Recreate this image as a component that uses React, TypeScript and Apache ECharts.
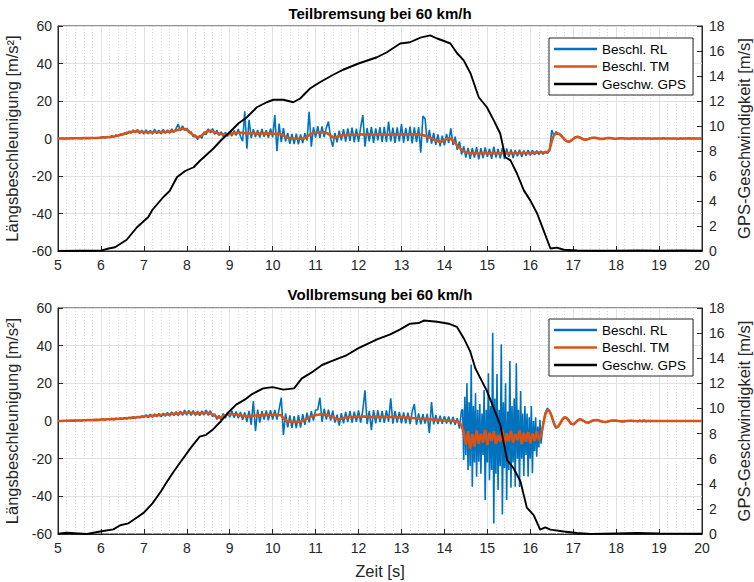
import React, { useEffect, useRef } from "react";
import * as echarts from "echarts";

// ---------- data ----------
const T0 = 5;
const DT = 0.05; // sample step of acceleration arrays [s]

const xTicks = [5, 20];
const accelRange = [-60, 60];
const speedRange = [0, 18];

// Teilbremsung – Beschl. RL (m/s^2), t = 5 + i*0.05
const rlTop = [
  0.1,-0.1,0.2,-0.2,0.1,0.0,0.2,-0.1,0.3,0.0,0.2,-0.1,0.4,0.0,0.3,0.1,0.5,0.1,0.4,0.2,0.6,
  0.9,0.3,1.1,0.5,1.4,0.8,1.9,1.2,2.4,1.8,3.1,2.2,3.9,2.8,4.6,3.0,4.9,
  2.6,4.5,2.4,4.6,2.5,4.3,2.3,5.0,2.6,4.4,2.5,4.9,2.7,4.6,2.8,5.1,3.2,5.4,
  7.7,4.0,6.8,4.3,5.5,3.0,3.6,0.9,1.9,-0.6,1.6,0.2,3.5,2.0,5.2,
  3.0,5.3,2.2,4.4,1.6,3.6,1.0,3.4,1.1,3.8,1.3,4.3,1.6,5.0,1.2,-1.5,14.5,-5.5,10.0,0.2,
  5.0,0.8,4.6,0.5,5.1,0.9,4.4,0.4,5.3,0.6,
  12.5,-6.8,8.0,-2.0,5.5,-1.5,3.0,
  -2.8,2.4,-3.0,2.6,-3.1,2.2,-2.5,2.8,-1.0,
  14.3,-4.4,6.0,0.5,6.6,0.4,6.5,0.8,5.8,9.0,0.2,
  -4.4,3.0,-2.0,4.2,-1.0,
  5.0,-1.6,5.4,-1.2,5.8,-2.0,5.2,-1.8,6.0,12.5,-4.4,5.6,-1.5,6.2,-2.3,5.4,-1.0,6.0,
  -1.8,6.2,-2.0,9.0,-1.5,5.8,-2.4,6.0,-1.6,7.7,-2.2,5.6,-1.4,6.3,-2.6,5.9,-2.0,6.1,-7.5,12.0,
  10.5,-2.2,4.6,-2.8,3.0,-3.4,2.2,-4.2,1.5,-3.6,2.5,-2.4,5.4,
  -3.5,1.0,-6.0,-1.6,-8.5,-4.2,-10.2,-5.0,
  -10.8,-5.0,-10.2,-4.6,-11.1,-5.2,-10.5,-4.8,-9.8,-5.4,-10.9,-4.4,-10.1,-5.6,-10.6,-5.0,-11.0,-5.3,-9.9,-5.8,
  -10.4,-6.2,-9.5,-6.0,-9.8,-6.4,-9.2,-6.1,-9.0,-6.3,-8.8,-6.5,-8.6,-6.6,-8.5,-6.7,-8.0,
  -6.5,4.5,1.5,3.6,2.3,2.2,0.6,-0.8,-1.4,-1.9,-1.0,-0.3,0.7,1.0,0.5,0.1,-0.6,-0.5,-0.4,0.2,0.3,0.5,
  0.3,-0.1,-0.1,-0.3,0.1,0.1,0.3,0.0,0.0,-0.2,0.1,0.0,0.2,-0.1,0.1,-0.2,0.1,0.0,0.1,-0.1,
  0.1,-0.1,0.2,-0.1,0.1,-0.1,0.0,0.1,-0.1,0.1,-0.1,0.2,-0.1,0.1,0.0,-0.1,0.1,-0.1,0.0,0.1,
  -0.1,0.1,0.0,0.2,-0.1,0.1,0.0,-0.1,0.1,0.0,
];

// Teilbremsung – Beschl. TM (m/s^2)
const tmTop = [
  0,0,0,0,0,0,0.1,0.1,0.1,0.1,0.1,0.1,0.2,0.2,0.2,0.2,0.3,0.3,0.3,0.4,0.4,
  0.5,0.6,0.7,0.8,1.0,1.1,1.3,1.6,1.9,2.2,2.5,2.9,3.2,3.5,3.7,3.8,3.8,
  3.6,3.5,3.4,3.5,3.4,3.3,3.4,3.5,3.5,3.4,3.5,3.6,3.5,3.6,3.7,3.8,4.0,4.3,
  4.7,5.0,5.2,5.1,4.6,3.8,2.8,1.8,1.0,0.7,1.0,1.7,2.6,3.4,4.0,
  4.1,3.8,3.3,2.9,2.6,2.4,2.2,2.2,2.3,2.4,2.6,2.8,3.0,3.1,3.1,3.0,2.8,2.7,2.7,2.8,
  2.8,2.7,2.6,2.7,2.8,2.7,2.6,2.6,2.7,2.6,
  2.5,2.4,2.5,2.2,1.6,0.9,0.4,
  0.2,0.0,-0.1,0.0,-0.2,-0.1,0.0,0.2,0.9,
  1.8,2.6,3.0,3.1,3.2,3.3,3.4,3.3,3.0,2.4,1.5,
  0.7,0.5,0.8,1.3,1.7,
  1.8,1.9,1.8,2.0,2.1,2.0,1.9,2.0,2.2,2.1,2.0,2.1,2.2,2.1,2.0,2.1,2.2,2.1,
  2.1,2.2,2.1,2.0,2.1,2.2,2.2,2.1,2.0,2.1,2.2,2.3,2.2,2.1,2.2,2.3,2.2,2.1,2.0,1.8,
  1.5,1.1,0.6,0.1,-0.5,-1.0,-1.5,-1.8,-1.5,-0.8,-0.2,0.1,-0.3,
  -1.2,-2.4,-3.8,-5.0,-6.0,-6.8,-7.3,-7.6,
  -7.8,-7.9,-7.7,-7.8,-8.0,-7.9,-7.7,-7.8,-7.9,-8.0,-7.8,-7.7,-7.9,-8.0,-7.9,-7.8,-7.7,-7.8,-7.9,-7.8,
  -7.7,-7.8,-7.9,-7.8,-7.7,-7.6,-7.7,-7.8,-7.7,-7.6,-7.5,-7.6,-7.5,-7.4,-7.5,-7.4,-7.3,
  -6.0,-1.5,1.8,2.6,2.7,2.0,0.8,-0.6,-1.5,-1.7,-1.2,-0.2,0.6,0.9,0.6,0.0,-0.5,-0.6,-0.3,0.1,0.4,0.4,
  0.2,0.0,-0.2,-0.2,0.0,0.2,0.2,0.1,-0.1,-0.1,0.0,0.1,0.1,0.0,0.0,-0.1,0.0,0.1,0.0,0.0,
  0.0,0.0,0.1,0.0,0.0,0.0,-0.1,0.0,0.0,0.0,0.0,0.1,0.0,0.0,0.0,0.0,0.0,0.0,-0.1,0.0,
  0.0,0.0,0.0,0.1,0.0,0.0,0.0,0.0,0.0,0.0,
];

// Teilbremsung – Geschw. GPS (m/s)
const gpsTopT = [5.0,5.5,6.0,6.18,6.33,6.6,6.84,7.0,7.1,7.2,7.45,7.6,7.77,7.96,8.16,8.3,8.46,8.62,8.81,9.0,9.2,9.4,9.63,9.86,10.02,10.25,10.48,10.64,10.87,11.1,11.41,11.64,12.0,12.43,12.66,12.97,13.2,13.44,13.67,13.83,13.99,14.14,14.3,14.45,14.61,14.8,14.99,15.15,15.3,15.42,15.54,15.69,15.85,16.0,16.16,16.31,16.47,16.62,16.78,17.09,17.5,18.0,18.5,19.0,19.5,20.0];
const gpsTopV = [0.0,0.02,0.03,0.2,0.3,0.9,1.9,2.4,2.7,3.3,4.3,4.8,5.9,6.4,6.7,7.2,7.7,8.2,8.9,9.5,10.2,10.7,11.5,11.9,12.1,12.1,11.9,12.2,13.0,13.5,14.1,14.5,15.0,15.5,15.9,16.6,16.7,17.07,17.25,17.0,16.8,16.6,15.8,15.25,14.2,12.3,11.5,10.45,9.4,7.5,7.25,6.2,4.85,4.05,3.0,1.65,0.2,0.27,0.1,0.05,0.02,0.03,0.05,0.02,0.05,0.02];

// Vollbremsung – Beschl. RL (m/s^2): part A from t=5 (step 0.05) ...
const rlBotA = [
  0.1,-0.1,0.2,-0.1,0.2,0.0,0.3,0.1,0.4,0.1,0.5,0.1,0.6,0.2,0.7,0.3,0.7,0.4,0.8,0.5,0.9,
  1.1,0.5,1.2,0.6,1.4,0.6,1.5,0.8,1.6,0.9,1.8,1.0,2.0,1.2,2.3,1.4,2.5,1.6,2.8,1.8,
  3.3,1.8,3.6,1.9,3.7,2.2,4.0,2.2,4.2,2.5,4.6,2.6,4.8,2.8,5.0,2.9,5.2,3.0,5.8,3.1,
  5.6,3.0,5.5,2.9,5.2,2.8,5.4,3.1,5.8,3.0,
  5.5,2.2,3.8,0.8,3.0,0.6,4.0,1.5,4.8,2.0,
  5.4,1.8,5.0,1.4,4.8,0.6,4.6,-0.5,5.4,-2.0,10.6,-5.3,6.0,-0.8,5.2,0.8,5.6,0.4,5.8,0.8,
  5.9,0.7,6.2,12.4,-7.4,4.0,-3.4,3.0,-3.6,2.6,
  -3.8,3.2,-3.5,3.6,-2.0,4.4,-0.8,5.2,0.2,5.8,
  6.0,12.4,-0.4,6.5,0.8,6.0,0.2,5.5,-0.8,3.4,
  -2.4,4.2,-1.2,4.8,-0.6,5.2,-0.8,5.0,-0.4,5.6,
  -0.8,5.8,16.3,-1.6,5.4,-4.8,5.8,-1.2,5.6,-0.6,5.2,-1.0,5.6,-0.4,12.0,-1.4,5.2,-0.8,4.8,-1.2,
  4.6,-1.2,4.4,-1.6,5.0,9.0,-2.0,4.0,-1.8,3.6,-1.4,3.8,-6.5,10.0,-1.8,3.2,-1.6,2.8,-1.5,2.6,
  -1.4,2.4,-1.8,2.2,-2.0,1.5,-4.0,5.8,
];
// ... braking part B from t=14.425 (step 0.025) ...
const RL_BRAKE_T0 = 14.425;
const RL_BRAKE_DT = 0.025;
const rlBotBrake = [
  6.0,-20.7,12.9,-18.0,20.0,-26.0,10.0,-24.0,30.0,-34.9,8.0,-22.0,14.7,-29.6,6.0,-21.6,9.0,-28.0,4.0,-18.0,
  16.5,-42.0,6.0,-22.0,25.3,-31.5,8.0,-26.0,46.9,-54.4,12.0,-28.0,25.0,-36.6,6.0,-24.0,40.7,-49.6,10.0,-25.0,
  20.0,-42.0,5.0,-26.0,31.9,-35.4,8.0,-22.0,12.0,-34.9,30.6,-20.0,6.0,-35.0,15.9,-20.0,4.0,-29.2,8.0,-18.0,
  4.0,-29.6,2.0,-20.0,8.0,-27.8,0.0,-16.0,2.0,-19.0,-3.0,-14.0,0.5,-12.0,
];
// ... part C from t=16.3 (step 0.05)
const RL_C_T0 = 16.3;
const rlBotC = [
  -1.0,4.5,6.8,5.4,2.0,-1.5,-3.8,-2.8,-1.0,1.0,2.2,1.4,0.0,-1.6,-1.9,-0.8,0.4,1.0,0.6,-0.2,-0.8,-0.8,-0.3,0.3,0.4,
  0.6,0.2,0.0,-0.5,-0.4,-0.4,0.1,0.1,0.4,0.1,0.1,-0.2,-0.1,-0.2,0.1,0.0,0.2,-0.1,0.1,-0.3,
  0.4,-0.3,0.4,-0.4,0.3,-0.3,0.2,-0.1,0.1,-0.1,0.1,-0.1,0.1,0.0,0.1,-0.1,0.1,-0.1,0.1,0.0,
  -0.1,0.1,0.0,-0.1,0.1,0.0,-0.1,0.1,0.0,0.0,
];

// Vollbremsung – Beschl. TM (m/s^2), t = 5 + i*0.05
const tmBot = [
  0,0,0,0.1,0.1,0.1,0.2,0.2,0.2,0.3,0.3,0.3,0.4,0.4,0.5,0.5,0.5,0.6,0.6,0.7,0.7,
  0.8,0.8,0.9,0.9,1.0,1.0,1.1,1.2,1.2,1.3,1.4,1.5,1.6,1.7,1.8,1.9,2.0,2.1,2.2,2.4,
  2.5,2.6,2.7,2.8,2.9,3.0,3.1,3.2,3.3,3.4,3.5,3.6,3.7,3.8,3.9,4.0,4.1,4.2,4.3,4.4,
  4.4,4.3,4.2,4.1,4.0,4.1,4.2,4.3,4.4,4.3,
  4.0,3.5,2.8,2.1,1.8,2.0,2.6,3.1,3.4,3.5,
  3.6,3.6,3.4,3.2,3.0,2.8,2.7,2.6,2.6,2.7,2.8,2.9,3.0,3.0,3.1,3.2,3.2,3.3,3.2,3.2,
  3.2,3.3,3.2,3.0,1.5,0.3,-0.2,-0.3,-0.4,-0.4,
  -0.5,-0.4,-0.3,0.0,0.6,1.3,1.9,2.4,2.8,3.1,
  3.3,3.5,3.5,3.4,3.2,2.9,2.7,2.2,1.4,0.9,
  0.9,1.2,1.6,1.9,2.1,2.1,2.0,2.1,2.2,2.2,
  2.2,2.3,2.4,2.3,2.2,2.1,2.2,2.3,2.2,2.1,2.2,2.2,2.1,2.0,2.1,2.2,2.1,2.0,2.0,2.1,
  2.0,1.9,1.8,1.7,1.6,1.5,1.4,1.3,1.2,1.2,1.1,1.0,0.9,0.8,0.7,0.6,0.5,0.5,0.4,0.3,
  0.3,0.2,0.1,0.0,-0.1,-0.3,-0.8,-2.5,
  -6.0,-12.5,-5.5,-14.8,-7.0,-13.5,-5.0,-12.0,-6.8,-11.5,-4.6,-12.8,-6.2,-10.5,-5.4,-12.2,-7.5,-11.0,-4.8,-13.2,
  -6.5,-10.8,-5.2,-11.6,-6.8,-10.2,-5.0,-12.4,-6.2,-11.0,-5.8,-11.8,-6.6,-10.6,-5.4,-10.2,-7.4,
  -2.0,3.5,6.0,5.2,2.5,-1.0,-3.5,-3.0,-1.2,0.8,2.0,1.6,0.2,-1.4,-1.8,-1.0,0.2,0.9,0.7,0.0,-0.7,-0.9,-0.4,0.2,0.4,
  0.5,0.3,-0.1,-0.4,-0.5,-0.3,0.0,0.2,0.3,0.2,0.0,-0.1,-0.2,-0.1,0.0,0.1,0.1,0.0,0.0,-0.1,
  0.0,0.0,0.1,0.0,0.0,0.0,0.0,0.0,0.0,0.0,0.0,0.0,0.0,0.0,0.0,0.0,0.0,0.0,0.0,0.0,
  0.0,0.0,0.0,0.0,0.0,0.0,0.0,0.0,0.0,0.0,
];

// Vollbremsung – Geschw. GPS (m/s)
const gpsBotT = [5.0,5.2,5.67,5.98,6.29,6.45,6.64,6.83,7.0,7.2,7.4,7.5,7.7,7.9,8.1,8.3,8.45,8.6,8.8,9.0,9.15,9.35,9.5,9.78,10.0,10.25,10.5,10.68,10.9,11.15,11.4,11.7,12.0,12.43,12.74,12.97,13.2,13.4,13.52,13.83,14.1,14.29,14.45,14.6,14.72,14.84,14.99,15.15,15.3,15.46,15.61,15.77,15.92,16.08,16.23,16.35,16.47,16.78,17.09,17.4,18.0,18.5,19.0,19.5,20.0];
const gpsBotV = [0.03,0.1,0.0,0.2,0.37,0.7,0.85,1.3,1.7,2.44,3.4,3.96,5.0,5.95,6.9,7.75,7.9,8.3,9.0,9.8,10.3,10.7,11.1,11.6,11.7,11.5,11.6,12.4,12.85,13.46,13.8,14.2,14.8,15.5,15.9,16.3,16.75,16.8,17.0,16.9,16.75,16.5,15.6,14.55,13.2,12.4,11.4,10.0,8.7,5.9,5.25,4.2,2.1,1.5,0.35,0.53,0.35,0.2,0.08,0.0,0.05,0.08,0.05,0.03,0.02];

const titles = ["Teilbremsung bei 60 km/h", "Vollbremsung bei 60 km/h"];
const seriesNames = ["Beschl. RL", "Beschl. TM", "Geschw. GPS"];

// ---------- styling ----------
const FONT = '"Liberation Sans", Arial, Helvetica, sans-serif';
const INK = "#262626";
const BLUE = "#0072BD";
const ORANGE = "#D95319";

const r2 = (x: number) => Math.round(x * 1000) / 1000;
const toPairs = (arr: number[], t0 = T0, dt = DT) => arr.map((v, i) => [r2(t0 + i * dt), v]);
const zip = (t: number[], v: number[]) => t.map((x, i) => [x, v[i]]);

export default function App() {
  const ref = useRef<HTMLDivElement>(null);
  useEffect(() => {
    if (!ref.current) return;
    const chart = echarts.init(ref.current, undefined, { renderer: "svg" });
    const grids = [
      { left: 58, top: 26, width: 644, height: 225 },
      { left: 58, top: 308, width: 644, height: 226 },
    ];
    const xAxis = grids.map((_, i) => ({
      type: "value",
      gridIndex: i,
      min: xTicks[0],
      max: xTicks[1],
      interval: 1,
      axisLine: { show: true, onZero: false, lineStyle: { color: INK, width: 1 } },
      axisTick: { show: true, inside: true, length: 5, lineStyle: { color: INK } },
      minorTick: { show: false, splitNumber: 5 },
      axisLabel: { color: INK, fontSize: 14, fontFamily: FONT, margin: 7 },
      splitLine: { show: true, lineStyle: { color: "#e2e2e2", width: 1 } },
      minorSplitLine: { show: true, lineStyle: { color: "#d6d6d6", width: 1, type: [1, 2] } },
    }));
    const yAxis: any[] = [];
    grids.forEach((_, i) => {
      yAxis.push({
        type: "value",
        gridIndex: i,
        position: "left",
        min: accelRange[0],
        max: accelRange[1],
        interval: 20,
        name: "Längsbeschleunigung [m/s²]",
        nameLocation: "middle",
        nameRotate: 90,
        nameGap: 31,
        nameTextStyle: { color: INK, fontSize: 16.5, fontFamily: FONT },
        axisLine: { show: true, onZero: false, lineStyle: { color: INK } },
        axisTick: { show: true, inside: true, length: 5, lineStyle: { color: INK } },
        axisLabel: { color: INK, fontSize: 14, fontFamily: FONT, margin: 6 },
        splitLine: { show: true, lineStyle: { color: "#e2e2e2", width: 1 } },
      });
      yAxis.push({
        type: "value",
        gridIndex: i,
        position: "right",
        min: speedRange[0],
        max: speedRange[1],
        interval: 2,
        name: "GPS-Geschwindigkeit [m/s]",
        nameLocation: "middle",
        nameRotate: 90,
        nameGap: 32,
        nameTextStyle: { color: INK, fontSize: 16.5, fontFamily: FONT },
        axisLine: { show: true, onZero: false, lineStyle: { color: INK } },
        axisTick: { show: true, inside: true, length: 5, lineStyle: { color: INK } },
        axisLabel: { color: INK, fontSize: 14, fontFamily: FONT, margin: 7 },
        splitLine: { show: false },
      });
    });
    const rlBot = [
      ...toPairs(rlBotA),
      ...toPairs(rlBotBrake, RL_BRAKE_T0, RL_BRAKE_DT),
      ...toPairs(rlBotC, RL_C_T0, DT),
    ];
    const datasets = [
      [toPairs(rlTop), toPairs(tmTop), zip(gpsTopT, gpsTopV)],
      [rlBot, toPairs(tmBot), zip(gpsBotT, gpsBotV)],
    ];
    const series: any[] = [];
    datasets.forEach((d, i) => {
      series.push({
        type: "line", name: seriesNames[0], xAxisIndex: i, yAxisIndex: 2 * i,
        data: d[0], symbol: "none", showSymbol: false, z: 2,
        lineStyle: { color: BLUE, width: 1.6 }, itemStyle: { color: BLUE },
      });
      series.push({
        type: "line", name: seriesNames[1], xAxisIndex: i, yAxisIndex: 2 * i,
        data: d[1], symbol: "none", showSymbol: false, z: 3,
        lineStyle: { color: ORANGE, width: 2.6 }, itemStyle: { color: ORANGE },
      });
      series.push({
        type: "line", name: seriesNames[2], xAxisIndex: i, yAxisIndex: 2 * i + 1,
        data: d[2], symbol: "none", showSymbol: false, z: 4,
        lineStyle: { color: "#000", width: 1.9 }, itemStyle: { color: "#000" },
      });
    });
    const legend = [38, 319].map((top) => ({
      data: seriesNames.map((n) => ({ name: n, icon: "rect" })),
      left: 549,
      top,
      orient: "vertical",
      selectedMode: false,
      itemWidth: 43,
      itemHeight: 2.5,
      itemGap: 1.5,
      padding: [3, 7, 3, 5],
      backgroundColor: "#fff",
      borderColor: INK,
      borderWidth: 1,
      borderRadius: 0,
      textStyle: { color: "#000", fontSize: 13.5, fontFamily: FONT, lineHeight: 16 },
    }));
    chart.setOption({
      animation: false,
      backgroundColor: "#fff",
      textStyle: { fontFamily: FONT },
      grid: grids.map((g) => ({
        ...g,
        show: true,
        borderColor: INK,
        borderWidth: 1,
        backgroundColor: "transparent",
        containLabel: false,
        outerBoundsMode: "none",
      })),
      xAxis,
      yAxis,
      legend,
      series,
      graphic: [
        { type: "text", x: 380, y: 13, style: { text: titles[0], x: 0, y: 0, textAlign: "center", textVerticalAlign: "middle", fill: "#000", font: `bold 15px ${FONT}` } },
        { type: "text", x: 380, y: 294, style: { text: titles[1], x: 0, y: 0, textAlign: "center", textVerticalAlign: "middle", fill: "#000", font: `bold 15px ${FONT}` } },
        { type: "text", x: 380, y: 571, style: { text: "Zeit [s]", x: 0, y: 0, textAlign: "center", textVerticalAlign: "middle", fill: INK, font: `16.5px ${FONT}` } },
      ],
    });
    return () => chart.dispose();
  }, []);
  return <div ref={ref} style={{ position: "fixed", left: 0, top: 0, width: 754, height: 582 }} />;
}
